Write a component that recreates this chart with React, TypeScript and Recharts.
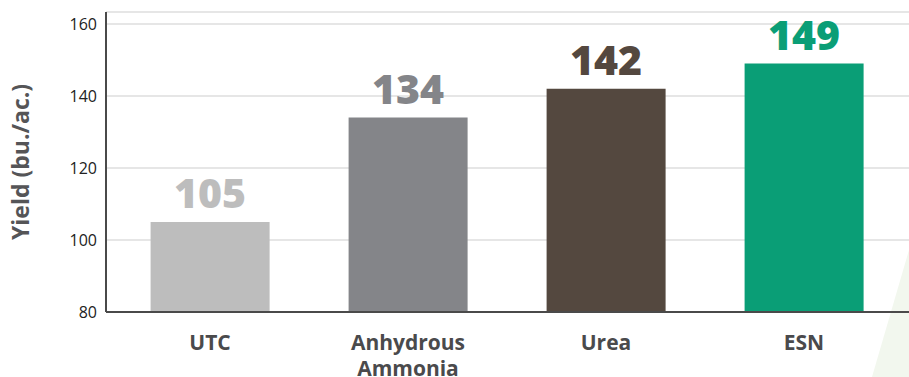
import React from "react";
import { BarChart, Bar, XAxis, YAxis, CartesianGrid, Cell, LabelList } from "recharts";

const categories = ["UTC", "Anhydrous Ammonia", "Urea", "ESN"];
const yields = [105, 134, 142, 149];
const barColors = ["#bdbdbd", "#848589", "#54483f", "#0a9e76"];
const yTicks = [80, 100, 120, 140, 160];

const data = categories.map((c, i) => ({ name: c, value: yields[i], color: barColors[i] }));

const FONT = "'Open Sans', 'Noto Sans', sans-serif";

const CatTick = (props: any) => {
  const { x, y, payload } = props;
  const words = String(payload.value).split(" ");
  return (
    <text x={x} y={y} textAnchor="middle" fill="#4a4a4c" fontFamily={FONT} fontWeight={700} fontSize={21}>
      {words.map((w, i) => (
        <tspan key={i} x={x} dy={i === 0 ? 30 : 26}>
          {w}
        </tspan>
      ))}
    </text>
  );
};

const ValueLabel = (props: any) => {
  const { x, y, width, value, index } = props;
  return (
    <text
      x={x + width / 2}
      y={y - 14}
      textAnchor="middle"
      fill={barColors[index]}
      fontFamily={FONT}
      fontWeight={800}
      fontSize={41}
    >
      {value}
    </text>
  );
};

export default function App() {
  return (
    <div style={{ position: "absolute", left: 0, top: 0, width: 909, height: 377, background: "#fff", overflow: "hidden" }}>
      <div
        style={{
          position: "absolute",
          left: 0,
          top: 0,
          width: 909,
          height: 377,
          background: "#f2f7ee",
          clipPath: "polygon(909px 250px, 909px 377px, 872px 377px)",
        }}
      />
      <div style={{ position: "absolute", left: 0, top: 0 }}>
        <BarChart width={909} height={377} data={data} margin={{ top: 12, right: 0, bottom: 0, left: 0 }} barCategoryGap="20%">
          <CartesianGrid horizontal vertical={false} stroke="#dedede" strokeWidth={1.5} />
          <XAxis
            dataKey="name"
            tick={<CatTick />}
            tickLine={false}
            axisLine={{ stroke: "#4a4a4a", strokeWidth: 2 }}
            height={65}
            interval={0}
            padding={{ left: 5, right: 6 }}
          />
          <YAxis
            domain={[80, 163.3]}
            ticks={yTicks}
            allowDataOverflow
            width={106}
            tickLine={false}
            tickSize={0}
            tickMargin={9}
            axisLine={{ stroke: "#4a4a4a", strokeWidth: 2 }}
            tick={{ fill: "#222", fontSize: 16, fontFamily: FONT }}
            label={{
              value: "Yield (bu./ac.)",
              angle: -90,
              position: "insideLeft",
              offset: 21,
              style: { textAnchor: "middle", fill: "#555557", fontSize: 23, fontWeight: 700, fontFamily: FONT },
            }}
          />
          <Bar dataKey="value" isAnimationActive={false}>
            {data.map((d, i) => (
              <Cell key={i} fill={d.color} />
            ))}
            <LabelList dataKey="value" content={<ValueLabel />} />
          </Bar>
        </BarChart>
      </div>
    </div>
  );
}
